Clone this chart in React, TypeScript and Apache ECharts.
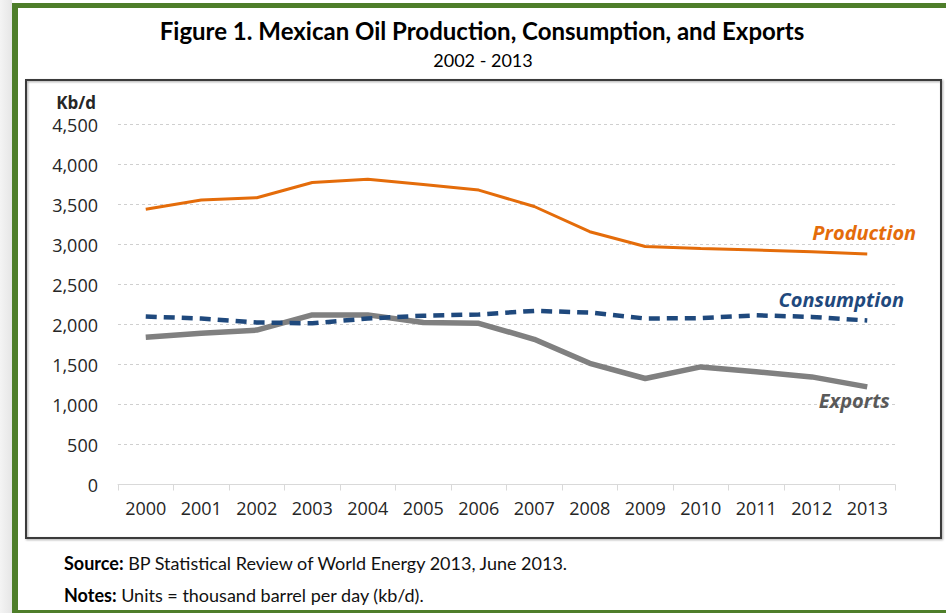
import React, { useEffect, useRef } from "react";
import * as echarts from "echarts";

const years = ["2000", "2001", "2002", "2003", "2004", "2005", "2006", "2007", "2008", "2009", "2010", "2011", "2012", "2013"];
const production = [3440, 3555, 3585, 3775, 3815, 3750, 3680, 3475, 3160, 2975, 2950, 2930, 2910, 2880];
const consumption = [2100, 2075, 2025, 2015, 2075, 2110, 2125, 2170, 2150, 2075, 2080, 2115, 2095, 2050];
const exportsKbd = [1840, 1890, 1930, 2120, 2120, 2025, 2015, 1815, 1515, 1325, 1470, 1410, 1345, 1220];

const titleText = "Figure 1. Mexican Oil Production, Consumption, and Exports";
const subtitleText = "2002 - 2013";
const sourceText = "BP Statistical Review of World Energy 2013, June 2013.";
const notesText = "Units = thousand barrel per day (kb/d).";

const withLastLabel = (values: number[], name: string, color: string, position: string, offset: number[]) =>
  values.map((v, i) =>
    i === values.length - 1
      ? {
          value: v,
          label: {
            show: true,
            formatter: name,
            position,
            distance: 5,
            offset,
            color,
            fontFamily: "Open Sans",
            fontStyle: "italic",
            fontWeight: "bold",
            fontSize: 20,
          },
        }
      : v
  );

export default function App() {
  const ref = useRef<HTMLDivElement>(null);
  useEffect(() => {
    if (!ref.current) return;
    const chart = echarts.init(ref.current, undefined, { renderer: "svg" });
    const green = "#4E7E2A";
    chart.setOption({
      animation: false,
      backgroundColor: "#ffffff",
      grid: { left: 118, right: 51, top: 124.5, bottom: 128.5, containLabel: false },
      graphic: [
        {
          type: "rect",
          shape: { x: 0, y: 0, width: 12, height: 613 },
          style: {
            fill: new echarts.graphic.LinearGradient(0, 0, 1, 0, [
              { offset: 0, color: "#F4F4F4" },
              { offset: 1, color: "#E6E6E6" },
            ]),
          },
          silent: true,
        },
        { type: "rect", shape: { x: 12, y: 3, width: 6, height: 610 }, style: { fill: green }, silent: true },
        { type: "rect", shape: { x: 12, y: 3, width: 934, height: 5 }, style: { fill: green }, silent: true },
        { type: "rect", shape: { x: 12, y: 610, width: 934, height: 3 }, style: { fill: green }, silent: true },
        {
          type: "rect",
          shape: { x: 26, y: 80, width: 915, height: 458 },
          style: { fill: "none", stroke: "#3A3A3A", lineWidth: 2, shadowBlur: 2, shadowColor: "rgba(0,0,0,0.35)", shadowOffsetX: 1, shadowOffsetY: 1 },
          silent: true,
        },
        {
          type: "text",
          x: 482,
          y: 30,
          style: {
            text: titleText,
            fontFamily: "Lato",
            fontWeight: "bold",
            fontSize: 24,
            fill: "#000",
            align: "center",
            verticalAlign: "middle",
          },
        },
        {
          type: "text",
          x: 483,
          y: 60,
          style: {
            text: subtitleText,
            fontFamily: "Lato",
            fontSize: 18,
            fill: "#000",
            align: "center",
            verticalAlign: "middle",
          },
        },
        {
          type: "text",
          x: 64,
          y: 563,
          style: {
            text: "{b|Source:} " + sourceText,
            fontFamily: "Lato",
            fontSize: 18,
            fill: "#111",
            verticalAlign: "middle",
            rich: { b: { fontFamily: "Lato", fontWeight: "bold", fontSize: 18, fill: "#000" } },
          },
        },
        {
          type: "text",
          x: 64,
          y: 595,
          style: {
            text: "{b|Notes:} " + notesText,
            fontFamily: "Lato",
            fontSize: 18,
            fill: "#111",
            verticalAlign: "middle",
            rich: { b: { fontFamily: "Lato", fontWeight: "bold", fontSize: 18, fill: "#000" } },
          },
        },
      ],
      xAxis: {
        type: "category",
        data: years,
        boundaryGap: true,
        axisLine: { show: true, lineStyle: { color: "#D9D9D9", width: 1 } },
        axisTick: { show: true, length: 6, lineStyle: { color: "#D9D9D9" } },
        axisLabel: { color: "#262626", fontFamily: "Open Sans", fontSize: 18, margin: 14 },
        splitLine: { show: false },
      },
      yAxis: {
        type: "value",
        min: 0,
        max: 4500,
        interval: 500,
        name: "Kb/d",
        nameLocation: "end",
        nameGap: 22,
        nameTextStyle: {
          fontFamily: "Open Sans",
          fontWeight: "bold",
          fontSize: 17,
          color: "#262626",
          align: "right",
          verticalAlign: "middle",
          padding: [0, 22, 0, 0],
        },
        axisLine: { show: false },
        axisTick: { show: false },
        axisLabel: {
          color: "#262626",
          fontFamily: "Open Sans",
          fontSize: 18,
          margin: 20,
          formatter: (v: number) => v.toLocaleString("en-US"),
        },
        splitLine: { show: true, lineStyle: { color: "#CFCFCF", width: 1, type: [3, 3] } },
      },
      series: [
        {
          name: "Production",
          type: "line",
          data: withLastLabel(production, "Production", "#E46C0A", "top", [-3, -7]),
          symbol: "circle",
          symbolSize: 0,
          showSymbol: true,
          lineStyle: { color: "#E46C0A", width: 3 },
          itemStyle: { color: "#E46C0A" },
          z: 3,
        },
        {
          name: "Consumption",
          type: "line",
          data: withLastLabel(consumption, "Consumption", "#1F497D", "top", [-26, -6]),
          symbol: "circle",
          symbolSize: 0,
          showSymbol: true,
          lineStyle: { color: "#1F497D", width: 4.5, type: [11, 7] },
          itemStyle: { color: "#1F497D" },
          z: 4,
        },
        {
          name: "Exports",
          type: "line",
          data: withLastLabel(exportsKbd, "Exports", "#595959", "bottom", [-13, -1]),
          symbol: "circle",
          symbolSize: 0,
          showSymbol: true,
          lineStyle: { color: "#808080", width: 5.5 },
          itemStyle: { color: "#808080" },
          z: 2,
        },
      ],
    });
    return () => chart.dispose();
  }, []);
  return (
    <div
      ref={ref}
      style={{ position: "fixed", left: 0, top: 0, width: 946, height: 613 }}
    />
  );
}
